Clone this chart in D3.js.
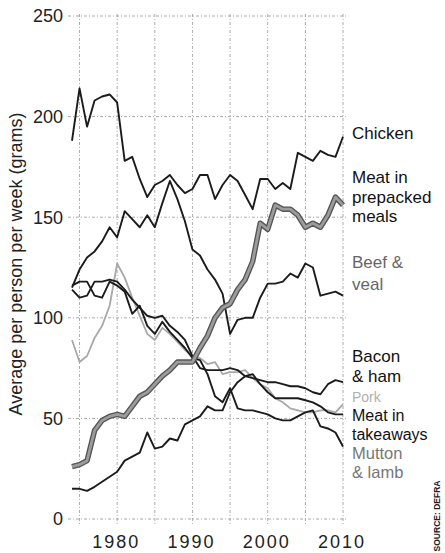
<!DOCTYPE html>
<html>
<head>
<meta charset="utf-8">
<script src="https://cdnjs.cloudflare.com/ajax/libs/d3/7.8.5/d3.min.js"></script>
<style>
body { margin: 0; background: #fff; }
svg text { font-family: "Liberation Sans Narrow", "Liberation Sans", Arial, sans-serif; }
</style>
</head>
<body>
<svg width="445" height="553"></svg>
<script>
// years 1974..2010, grams per person per week
var years = d3.range(1974, 2011);

var chicken = [188,214,195,208,210,211,207,178,180,169,
               160,166,168,171,166,162,164,171,171,159,
               166,171,168,161,154,169,169,164,167,164,
               182,180,178,183,181,180,190];
var prepacked = [26,27,29,44,49,51,52,51,56,61,
                 63,67,71,74,78,78,78,85,91,100,
                 105,107,114,119,128,147,144,156,154,154,
                 151,145,147,145,151,160,156];
var beef = [115,124,130,133,138,145,140,153,149,145,
            151,145,157,168,159,148,134,131,124,119,
            112,92,99,100,100,110,117,117,118,122,
            120,127,125,111,112,113,111];
var bacon = [114,110,111,118,118,119,118,114,109,105,
             101,100,101,96,93,89,81,75,74,74,
             74,75,74,71,70,69,68,68,67,66,
             66,65,63,62,67,69,68];
var pork = [89,78,81,90,96,106,127,120,110,101,
            92,89,95,92,88,84,81,80,77,78,
            72,73,73,74,70,67,65,60,58,55,
            54,53,53,54,54,53,57];
var takeaways = [15,15,14,16,18.5,21,23.5,29,31,33,
                 43,35,36,40,39,47,49,51,56,54,
                 54,63,68,71,72,67,63,60,60,60,
                 60,59,58,56,53,52,52];
var mutton = [116,118,118,111,110,118,116,113,102,106,
              96,92,98,93,89,85,80,79,72,61,
              58,65,55,54,54,53,52,50,49,49,
              51,53,54,46,45,43,36];

var yTicks = [0, 50, 100, 150, 200, 250];
var xTicks = [1975, 1980, 1985, 1990, 1995, 2000, 2005, 2010];
var xLabels = [1980, 1990, 2000, 2010];

var svg = d3.select("svg");

var x = d3.scaleLinear().domain([1974, 2010]).range([72, 343]);
var y = d3.scaleLinear().domain([0, 250]).range([519, 16]);

// grid
var grid = svg.append("g").attr("class", "grid")
    .attr("stroke", "#a0a0a0")
    .attr("stroke-width", 0.9)
    .attr("stroke-dasharray", "3,2,1,2");

grid.selectAll("line.h")
    .data(yTicks)
  .enter().append("line")
    .attr("class", "h")
    .attr("x1", 68).attr("x2", 347)
    .attr("y1", function(d) { return y(d); })
    .attr("y2", function(d) { return y(d); });

grid.selectAll("line.v")
    .data(xTicks)
  .enter().append("line")
    .attr("class", "v")
    .attr("x1", function(d) { return x(d); })
    .attr("x2", function(d) { return x(d); })
    .attr("y1", y(250) - 2).attr("y2", y(0) + 6);

// y tick labels
svg.append("g").selectAll("text")
    .data(yTicks)
  .enter().append("text")
    .attr("x", 63)
    .attr("y", function(d) { return y(d); })
    .attr("dy", "0.36em")
    .attr("text-anchor", "end")
    .style("font-size", "18px")
    .attr("fill", "#222")
    .text(function(d) { return d; });

// x tick labels
svg.append("g").selectAll("text")
    .data(xLabels)
  .enter().append("text")
    .attr("x", function(d) { return x(d) - 1; })
    .attr("y", 548)
    .attr("text-anchor", "middle")
    .style("font-size", "18px")
    .style("letter-spacing", "2px")
    .attr("fill", "#222")
    .text(function(d) { return d; });

// y title
svg.append("text")
    .attr("transform", "translate(22,264) rotate(-90)")
    .attr("text-anchor", "middle")
    .style("font-family", "'Liberation Sans', Arial, sans-serif")
    .style("font-size", "18px")
    .attr("fill", "#222")
    .text("Average per person per week (grams)");

var line = d3.line()
    .x(function(d, i) { return x(years[i]); })
    .y(function(d) { return y(d); });

var plot = svg.append("g").attr("fill", "none")
    .attr("stroke-linejoin", "round");

plot.append("path").datum(pork)
    .attr("d", line)
    .attr("stroke", "#a8a8a8")
    .attr("stroke-width", 1.8);

var blacks = [chicken, beef, bacon, takeaways, mutton];
plot.selectAll("path.black")
    .data(blacks)
  .enter().append("path")
    .attr("class", "black")
    .attr("d", line)
    .attr("stroke", "#1b1b1b")
    .attr("stroke-width", 1.9);

// prepacked: thick grey line with dark edge
plot.append("path").datum(prepacked)
    .attr("d", line)
    .attr("stroke", "#555")
    .attr("stroke-width", 5.5);
plot.append("path").datum(prepacked)
    .attr("d", line)
    .attr("stroke", "#9c9c9c")
    .attr("stroke-width", 2.8);

// series labels
var labels = [
  {lines: ["Chicken"], y: 139, size: 17, lh: 19, color: "#111"},
  {lines: ["Meat in", "prepacked", "meals"], y: 183, size: 17, lh: 19.5, color: "#111"},
  {lines: ["Beef &", "veal"], y: 268, size: 17, lh: 22, color: "#666"},
  {lines: ["Bacon", "& ham"], y: 362, size: 17, lh: 19.5, color: "#111"},
  {lines: ["Pork"], y: 402, size: 14, lh: 19, color: "#b0b0b0"},
  {lines: ["Meat in", "takeaways"], y: 421, size: 16, lh: 18.5, color: "#111"},
  {lines: ["Mutton", "& lamb"], y: 459, size: 16.5, lh: 19, color: "#777"}
];

var lab = svg.append("g").selectAll("text")
    .data(labels)
  .enter().append("text")
    .attr("x", 352)
    .attr("y", function(d) { return d.y; })
    .attr("fill", function(d) { return d.color; })
    .style("font-size", function(d) { return d.size + "px"; });

lab.selectAll("tspan")
    .data(function(d) { return d.lines.map(function(t) { return {t: t, lh: d.lh}; }); })
  .enter().append("tspan")
    .attr("x", 352)
    .attr("dy", function(d, i) { return i === 0 ? 0 : d.lh; })
    .text(function(d) { return d.t; });

// source
svg.append("text")
    .attr("transform", "translate(440,516) rotate(-90)")
    .attr("text-anchor", "middle")
    .style("font-size", "8.5px")
    .style("font-weight", "bold")
    .attr("fill", "#222")
    .text("SOURCE: DEFRA");
</script>
</body>
</html>
